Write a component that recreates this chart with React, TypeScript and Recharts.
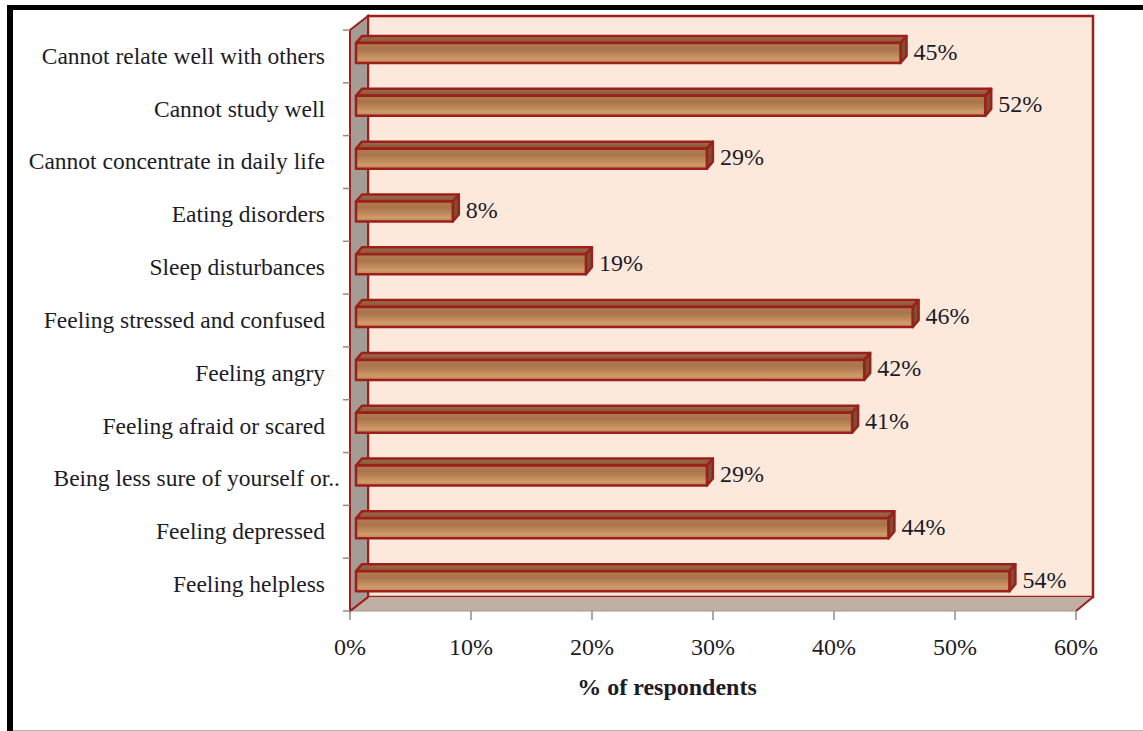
import React from 'react';
import { BarChart, Bar, XAxis, YAxis, LabelList, ReferenceArea, Label } from 'recharts';

const categories = [
  'Cannot relate well with others',
  'Cannot study well',
  'Cannot concentrate in daily life',
  'Eating disorders',
  'Sleep disturbances',
  'Feeling stressed and confused',
  'Feeling angry',
  'Feeling afraid or scared',
  'Being less sure of yourself or..',
  'Feeling depressed',
  'Feeling helpless',
];
const respondents = [45, 52, 29, 8, 19, 46, 42, 41, 29, 44, 54];
const xTicks = [0, 10, 20, 30, 40, 50, 60];

const chartData = categories.map((name, i) => ({ name, value: respondents[i] }));

const FONT = '"Liberation Serif", "Times New Roman", serif';
const TEXT = '#1c1c28';
const EDGE = '#9c1f1c';
const DEPTH = 18; // offset of the back wall from the front plane

// Back wall, left wall and floor of the 3D box, plus the category tick marks
const BoxPanel = (props: any) => {
  const { x, y, width, height } = props;
  const right = x + width;
  const bottom = y + height;
  const boundaries = categories.map((_, i) => y + (i * height) / categories.length);
  return (
    <g>
      <rect x={x + DEPTH} y={y - 14} width={width - 1} height={height} fill="#fde9dc" stroke={EDGE} strokeWidth={2.5} />
      <polygon
        points={`${x},${bottom} ${x + DEPTH},${bottom - 14} ${right + DEPTH - 1},${bottom - 14} ${right},${bottom}`}
        fill="#bfb0a3"
      />
      <line x1={x} y1={bottom} x2={x + DEPTH} y2={bottom - 14} stroke={EDGE} strokeWidth={2} />
      <line x1={right} y1={bottom} x2={right + DEPTH - 1} y2={bottom - 14} stroke={EDGE} strokeWidth={2} />
      <line x1={x} y1={bottom} x2={right} y2={bottom} stroke="#a8968a" strokeWidth={1} />
      <polygon
        points={`${x},${y} ${x + DEPTH},${y - 14} ${x + DEPTH},${bottom - 14} ${x},${bottom}`}
        fill="#a59d95"
        stroke={EDGE}
        strokeWidth={2}
      />
      {[...boundaries, bottom].map((ty) => (
        <line key={ty} x1={x - 7} x2={x} y1={ty} y2={ty} stroke="#8c8c8c" strokeWidth={1.5} />
      ))}
    </g>
  );
};

// Bar drawn as an extruded box: front face, top face and right face
const BoxBar = (props: any) => {
  const { x, y, width, height } = props;
  if (width <= 0) return null;
  const fx = x + 6;
  const fy = y - 3;
  const fr = fx + width;
  const fb = fy + height;
  return (
    <g stroke={EDGE} strokeWidth={2.5} strokeLinejoin="round">
      <polygon
        points={`${fx},${fy} ${fx + 6},${fy - 7} ${fr + 6},${fy - 7} ${fr},${fy}`}
        fill="url(#woodTop)"
      />
      <polygon
        points={`${fr},${fy} ${fr + 6},${fy - 7} ${fr + 6},${fb - 7} ${fr},${fb}`}
        fill="#7d4f33"
      />
      <rect x={fx} y={fy} width={width} height={height} fill="url(#woodFront)" />
    </g>
  );
};

const CategoryTick = (props: any) => {
  const { x, y, payload } = props;
  // the truncated label runs closer to the axis than the others
  const nudge = String(payload.value).endsWith('..') ? 15 : 0;
  return (
    <text x={x + nudge} y={y + 2} textAnchor="end" dominantBaseline="middle" fontFamily={FONT} fontSize={23.5} fill={TEXT}>
      {payload.value}
    </text>
  );
};

const ValueLabel = (props: any) => {
  const { x, y, width, height, value } = props;
  return (
    <text x={x + width + 19} y={y + height / 2 - 2} dominantBaseline="middle" fontFamily={FONT} fontSize={24} fill={TEXT}>
      {value}%
    </text>
  );
};

export default function App() {
  return (
    <div style={{ position: 'absolute', left: 0, top: 0, width: 1143, height: 731, background: '#fff', overflow: 'hidden' }}>
      {/* page frame: heavy rule on top and left, hairline at the bottom */}
      <div style={{ position: 'absolute', left: 7, right: 0, top: 5, height: 5, background: '#000' }} />
      <div style={{ position: 'absolute', left: 7, top: 5, bottom: 0, width: 6, background: '#000' }} />
      <div style={{ position: 'absolute', left: 13, right: 0, bottom: 0, height: 1, background: '#b4b4b4' }} />
      <BarChart
        width={1143}
        height={731}
        data={chartData}
        layout="vertical"
        margin={{ top: 30, right: 67, bottom: 60, left: 0 }}
        barCategoryGap={16}
        style={{ position: 'absolute', left: 0, top: 0 }}
      >
        <defs>
          <linearGradient id="woodFront" x1="0" y1="0" x2="0" y2="1">
            <stop offset="0%" stopColor="#b57e4f" />
            <stop offset="30%" stopColor="#a8744b" />
            <stop offset="55%" stopColor="#bb8558" />
            <stop offset="80%" stopColor="#cf9b69" />
            <stop offset="100%" stopColor="#bd875a" />
          </linearGradient>
          <linearGradient id="woodTop" x1="0" y1="0" x2="0" y2="1">
            <stop offset="0%" stopColor="#a0704c" />
            <stop offset="100%" stopColor="#855233" />
          </linearGradient>
        </defs>
        <XAxis
          type="number"
          domain={[0, 60]}
          ticks={xTicks}
          interval={0}
          height={60}
          tickFormatter={(t: number) => `${t}%`}
          axisLine={false}
          tickLine={{ stroke: '#8c8c8c', strokeWidth: 1.5 }}
          tickSize={9}
          tickMargin={18}
          tick={{ fontFamily: FONT, fontSize: 24, fill: TEXT }}
        >
          <Label
            value="% of respondents"
            position="insideBottom"
            offset={-24}
            dx={-46}
            style={{ fontFamily: FONT, fontSize: 24, fontWeight: 700, fill: TEXT }}
          />
        </XAxis>
        <YAxis
          type="category"
          dataKey="name"
          width={350}
          interval={0}
          axisLine={false}
          tickLine={false}
          tickSize={0}
          tickMargin={25}
          tick={<CategoryTick />}
        />
        <ReferenceArea x1={0} x2={60} shape={<BoxPanel />} fillOpacity={1} />
        <Bar dataKey="value" barSize={20} shape={<BoxBar />} isAnimationActive={false}>
          <LabelList dataKey="value" content={<ValueLabel />} />
        </Bar>
      </BarChart>
    </div>
  );
}
